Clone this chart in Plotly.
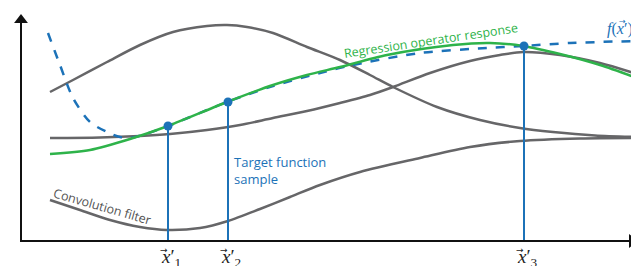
import plotly.graph_objects as go

# ---- data (diagram units: x to the right, y downward as drawn) ----
kernel_a_x = [50, 73, 107, 140, 173, 207, 227, 247, 273, 307, 340, 370, 393, 437, 480, 520, 553, 595, 637]
kernel_a_y = [92, 80, 62, 45, 32, 26, 25, 27, 33, 47, 60, 75, 87, 107, 120, 128, 132, 135.5, 137]

kernel_b_x = [50, 100, 140, 170, 207, 240, 273, 307, 340, 370, 393, 430, 470, 500, 523, 560, 600, 637]
kernel_b_y = [138, 137.5, 136, 134, 130, 125, 118, 111, 103, 95, 87, 73, 61, 55, 52, 55, 63, 74]

filter_x = [50, 80, 110, 140, 167, 200, 228, 260, 290, 320, 360, 420, 470, 520, 580, 637]
filter_y = [200, 210, 220, 227, 230, 228, 221, 209, 197, 185, 172, 158, 147, 141, 138.5, 138]

response_x = [50, 90, 130, 168, 227, 273, 307, 340, 387, 453, 490, 523, 560, 600, 637]
response_y = [154, 150, 139, 126, 102, 85, 75, 67, 55, 45, 43, 46, 54, 65, 78]

target_x = [48, 60, 73, 90, 107, 120, 130, 147, 168, 227, 273, 320, 353, 420, 487, 523, 570, 637]
target_y = [33, 65, 98, 122, 132, 137, 138, 133.5, 126, 102, 86, 73, 65, 53, 48, 46, 43, 41]

sample_x = [168, 228, 524]
sample_y = [126, 102, 46]
sample_subs = ["1", "2", "3"]

axis_y = 241
axis_x = 21
axis_end_x = 632
axis_top_y = 20

GRAY = "#666668"
GREEN = "#2eb34a"
BLUE = "#1c72b8"
MATH_FONT = "Liberation Serif"

fig = go.Figure()

for xs, ys in [(kernel_a_x, kernel_a_y), (kernel_b_x, kernel_b_y), (filter_x, filter_y)]:
    fig.add_trace(go.Scatter(x=xs, y=ys, mode="lines",
                             line=dict(color=GRAY, width=2.5, shape="spline", smoothing=0.8),
                             hoverinfo="skip", showlegend=False))

fig.add_trace(go.Scatter(x=target_x, y=target_y, mode="lines",
                         line=dict(color=BLUE, width=2.5, dash="dash", shape="spline", smoothing=0.8),
                         hoverinfo="skip", showlegend=False))
fig.add_trace(go.Scatter(x=response_x, y=response_y, mode="lines",
                         line=dict(color=GREEN, width=2.5, shape="spline", smoothing=0.8),
                         hoverinfo="skip", showlegend=False))

# vertical sample lines
vx, vy = [], []
for sx, sy in zip(sample_x, sample_y):
    vx += [sx, sx, None]
    vy += [sy, axis_y, None]
fig.add_trace(go.Scatter(x=vx, y=vy, mode="lines", line=dict(color=BLUE, width=2),
                         hoverinfo="skip", showlegend=False))
fig.add_trace(go.Scatter(x=sample_x, y=sample_y, mode="markers", marker=dict(color=BLUE, size=9),
                         hoverinfo="skip", showlegend=False))

# axes with arrowheads
fig.add_trace(go.Scatter(x=[axis_x, axis_x, None, axis_x - 1, axis_end_x],
                         y=[axis_top_y, axis_y + 1, None, axis_y, axis_y],
                         mode="lines", line=dict(color="#111", width=2), hoverinfo="skip", showlegend=False))
fig.add_trace(go.Scatter(x=[axis_end_x], y=[axis_y], mode="markers",
                         marker=dict(symbol="triangle-right", size=12, color="#111"),
                         hoverinfo="skip", showlegend=False))
fig.add_trace(go.Scatter(x=[axis_x], y=[axis_top_y], mode="markers",
                         marker=dict(symbol="triangle-up", size=12, color="#111"),
                         hoverinfo="skip", showlegend=False))

# tick labels  x' with vector arrow
for sx, sub in zip(sample_x, sample_subs):
    fig.add_annotation(x=sx + 3, y=258, text="<i>x</i>′<sub>" + sub + "</sub>", showarrow=False,
                       font=dict(family=MATH_FONT, size=19, color="#222"))
    fig.add_annotation(x=sx - 4, y=250, text="→", showarrow=False,
                       font=dict(family="DejaVu Sans", size=9, color="#222"))

fig.add_annotation(x=431, y=40, text="Regression operator response", showarrow=False, textangle=-8.5,
                   font=dict(family="Open Sans", size=12.5, color=GREEN))
fig.add_annotation(x=620, y=29, text="<i>f</i>(<i>x</i>′)", showarrow=False,
                   font=dict(family=MATH_FONT, size=16, color=BLUE))
fig.add_annotation(x=622, y=21, text="→", showarrow=False,
                   font=dict(family="DejaVu Sans", size=8, color=BLUE))
fig.add_annotation(x=232, y=170, text="Target function<br>sample", showarrow=False, xanchor="left",
                   align="left", font=dict(family="Open Sans", size=13, color=BLUE))
fig.add_annotation(x=102, y=206, text="Convolution filter", showarrow=False, textangle=16,
                   font=dict(family="Open Sans", size=12.5, color="#555"))

# page body has an 8px margin: shift the visible region so the picture lines up with the window
fig.update_layout(
    width=631, height=258, margin=dict(l=0, r=0, t=0, b=0),
    paper_bgcolor="white", plot_bgcolor="white",
    xaxis=dict(range=[8, 639], visible=False, fixedrange=True),
    yaxis=dict(range=[266, 8], visible=False, fixedrange=True),
)

fig.write_html("out.html")
